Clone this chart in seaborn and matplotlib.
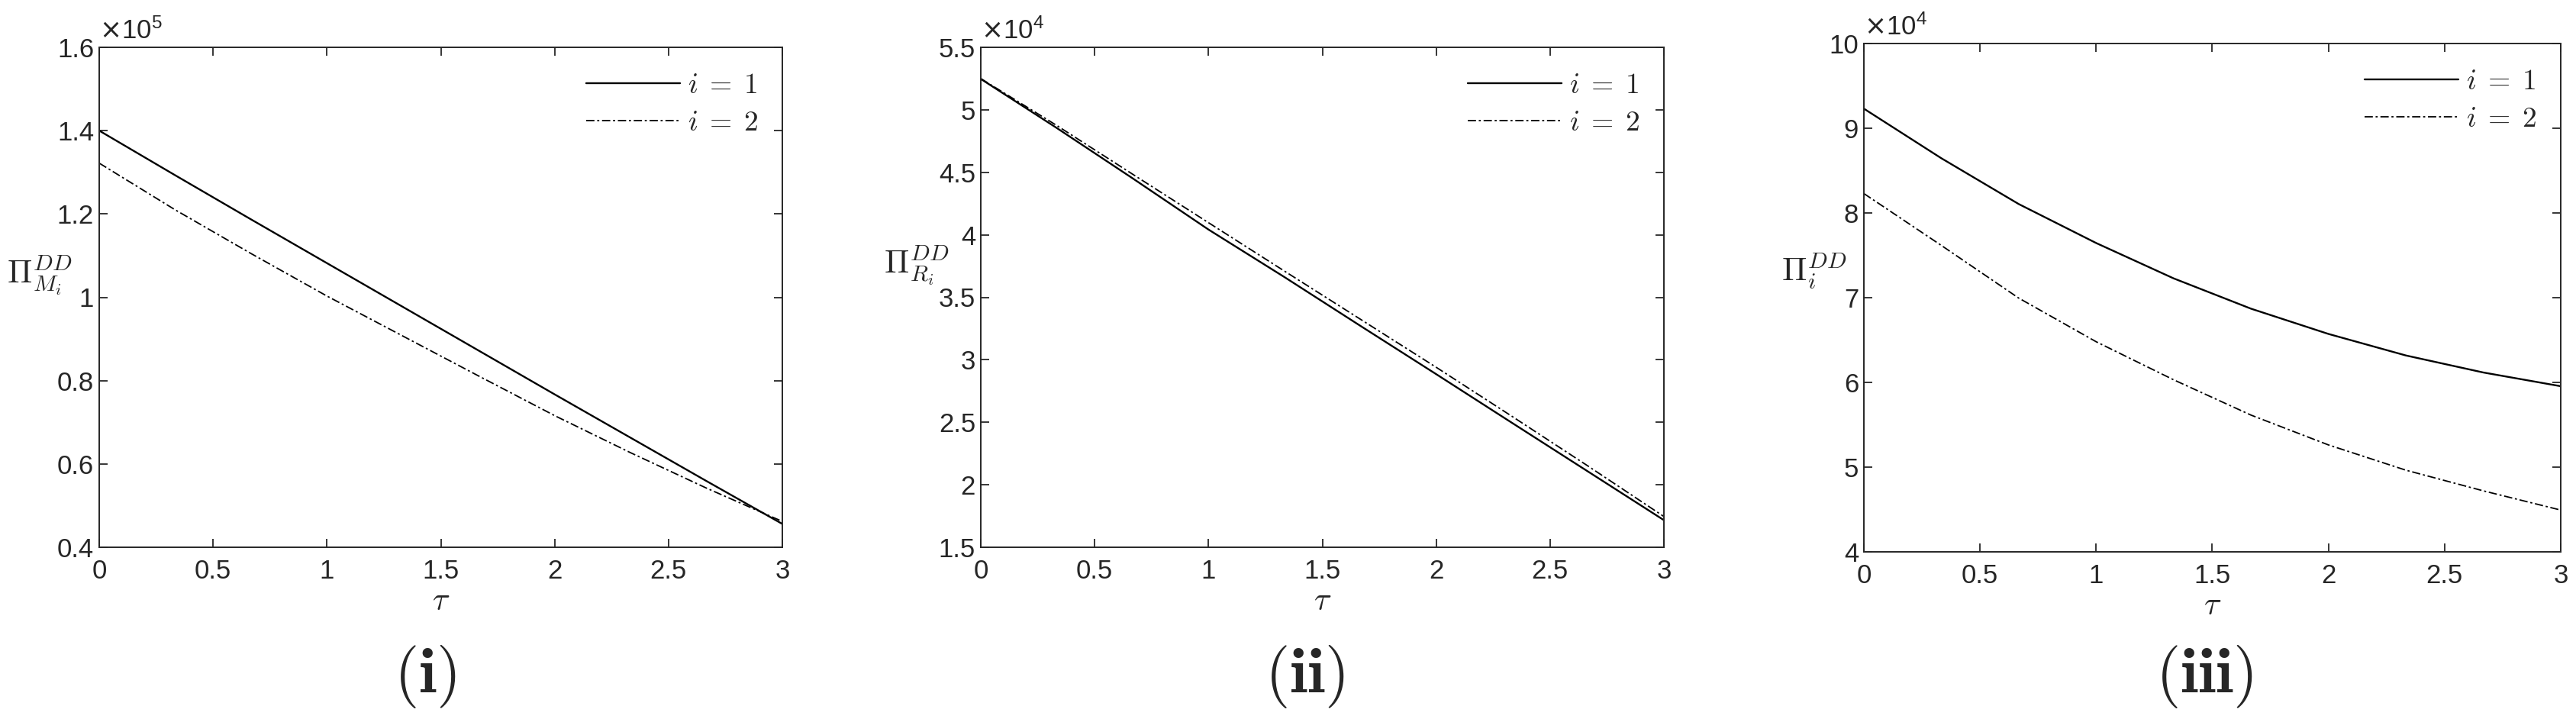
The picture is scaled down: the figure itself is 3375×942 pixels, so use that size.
import numpy as np
import pandas as pd
import matplotlib
matplotlib.use("Agg")
import matplotlib.pyplot as plt
import seaborn as sns
from matplotlib.ticker import FuncFormatter, MultipleLocator
from matplotlib.lines import Line2D

sns.set_style("ticks")
plt.rcParams['font.family'] = ['Liberation Sans', 'DejaVu Sans']
plt.rcParams['mathtext.fontset'] = 'cm'

# ---------------- data ----------------
tau = [0.0, 0.3333, 0.6667, 1.0, 1.3333, 1.6667, 2.0, 2.3333, 2.6667, 3.0]

# panel (i): Pi_{M_i}^{DD}
pm_1 = [140000, 129300, 118700, 108200, 97700, 87200, 76700, 66300, 55900, 45600]
pm_2 = [132200, 121000, 110500, 100300, 90700, 81100, 71600, 62700, 54200, 46200]
# panel (ii): Pi_{R_i}^{DD}
pr_1 = [52470, 48550, 44520, 40420, 36620, 32720, 28850, 24950, 21060, 17170]
pr_2 = [52500, 48750, 44850, 40970, 37100, 33250, 29400, 25470, 21500, 17460]
# panel (iii): Pi_i^{DD}
pt_1 = [92310, 86460, 81050, 76450, 72280, 68700, 65720, 63180, 61170, 59550]
pt_2 = [82290, 76170, 69950, 64800, 60310, 56140, 52620, 49640, 47200, 44930]

series_labels = [r'$i\;=\;1$', r'$i\;=\;2$']
x_ticks = [0, 0.5, 1, 1.5, 2, 2.5, 3]

panels = [
    dict(s1=pm_1, s2=pm_2, ylim=(40000, 160000), step=20000, scale=1e5, exp='5',
         ylabel=r'$\Pi_{M_i}^{DD}$', tag=r'$\mathbf{(i)}$',
         rect=[130/3375, 1-717/942, 895/3375, 655/942], ylab=(-0.087, 0.545), tagx=557/3375),
    dict(s1=pr_1, s2=pr_2, ylim=(15000, 55000), step=5000, scale=1e4, exp='4',
         ylabel=r'$\Pi_{R_i}^{DD}$', tag=r'$\mathbf{(ii)}$',
         rect=[1285/3375, 1-717/942, 895/3375, 655/942], ylab=(-0.094, 0.565), tagx=1709/3375),
    dict(s1=pt_1, s2=pt_2, ylim=(40000, 100000), step=10000, scale=1e4, exp='4',
         ylabel=r'$\Pi_{i}^{DD}$', tag=r'$\mathbf{(iii)}$',
         rect=[2442/3375, 1-723/942, 913/3375, 666/942], ylab=(-0.072, 0.553), tagx=2888/3375),
]

fig = plt.figure(figsize=(33.75, 9.42), dpi=100)

for p in panels:
    ax = fig.add_axes(p['rect'])
    df = pd.DataFrame({
        'tau': tau * 2,
        'val': p['s1'] + p['s2'],
        'series': [series_labels[0]] * len(tau) + [series_labels[1]] * len(tau),
    })
    sns.lineplot(data=df, x='tau', y='val', style='series', color='black',
                 dashes={series_labels[0]: '', series_labels[1]: (6, 2, 1.5, 2)},
                 ax=ax, legend=False, linewidth=1.7)
    ax.lines[1].set_linewidth(1.3)

    ax.set_xlim(0, 3)
    ax.set_ylim(*p['ylim'])
    ax.set_xticks(x_ticks)
    ax.xaxis.set_major_formatter(FuncFormatter(lambda v, pos: f'{v:g}'))
    ax.yaxis.set_major_locator(MultipleLocator(p['step']))
    sc = p['scale']
    ax.yaxis.set_major_formatter(FuncFormatter(lambda v, pos, sc=sc: f'{round(v/sc, 4):g}'))
    ax.tick_params(direction='in', length=8, width=1.3, labelsize=25, colors='#262626',
                   top=True, right=True, labelcolor='#262626')
    ax.tick_params(axis='x', pad=11)
    ax.tick_params(axis='y', pad=5)
    for sp in ax.spines.values():
        sp.set_linewidth(1.4)
        sp.set_color('#262626')
        sp.set_visible(True)

    ax.set_xlabel(r'$\tau$', fontsize=30, labelpad=2)
    ax.set_ylabel(p['ylabel'], fontsize=31, rotation=0)
    ax.yaxis.set_label_coords(*p['ylab'])
    ax.yaxis.label.set_verticalalignment('center')
    ax.yaxis.label.set_horizontalalignment('center')

    ax.text(0.0, 1.006, r'$\times\mathregular{10^{' + p['exp'] + '}}$', transform=ax.transAxes,
            ha='left', va='bottom', fontsize=25, color='#262626', math_fontfamily='dejavusans')

    handles = [Line2D([], [], color='black', lw=1.7),
               Line2D([], [], color='black', lw=1.3, dashes=(6, 2, 1.5, 2))]
    ax.legend(handles, series_labels, loc='upper right', frameon=False,
              fontsize=27, handlelength=3.3, handletextpad=0.25,
              labelspacing=0.35, borderaxespad=0.45)

    fig.text(p['tagx'], 1 - 886/942, p['tag'], ha='center', va='center',
             fontsize=60)

fig.savefig('out.png', dpi=100)
